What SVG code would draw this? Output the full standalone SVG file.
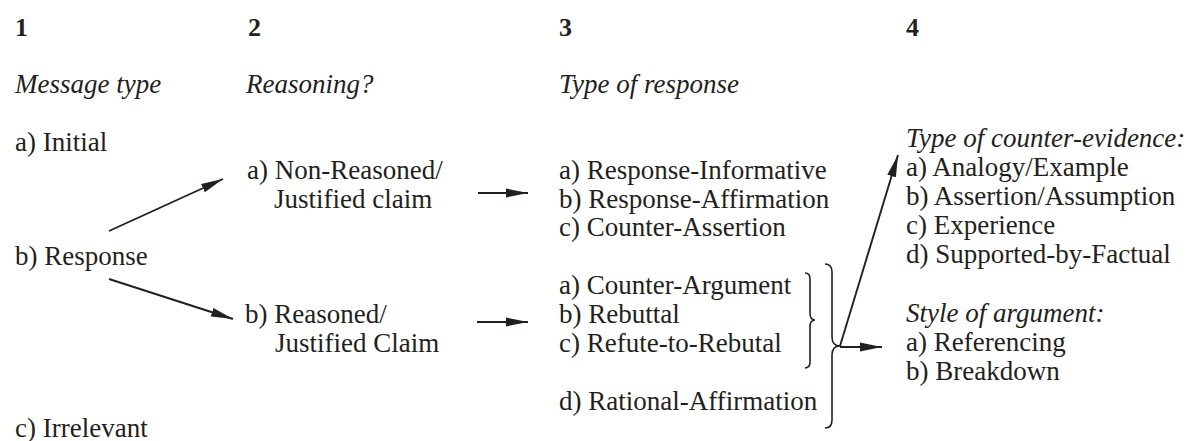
<svg xmlns="http://www.w3.org/2000/svg" width="1196" height="441" viewBox="0 0 1196 441">
<style>
text{font-family:"Liberation Serif","Times New Roman",serif;font-size:27px;fill:#231f20}
.num{font-weight:bold;font-size:26px}
.hd{font-style:italic}
.ln{stroke:#231f20;stroke-width:1.9;fill:none}
.br{stroke:#231f20;stroke-width:1.6;fill:none}
</style>
<defs>
<marker id="ah" viewBox="0 0 22 10" refX="22" refY="5" markerWidth="22" markerHeight="10" markerUnits="userSpaceOnUse" orient="auto">
<path d="M0,0.5 L22,5 L0,9.5 z" fill="#231f20"/>
</marker>
</defs>
<g id="headers">
<text class="num" x="15" y="36">1</text>
<text class="num" x="248" y="36">2</text>
<text class="num" x="559" y="36">3</text>
<text class="num" x="906" y="36">4</text>
<text class="hd" x="15" y="93">Message type</text>
<text class="hd" x="246" y="93">Reasoning?</text>
<text class="hd" x="559" y="93">Type of response</text>
</g>
<g id="initial"><text x="15" y="151">a) Initial</text></g>
<g id="response"><text x="15" y="265">b) Response</text></g>
<g id="irrelevant"><text x="15" y="437">c) Irrelevant</text></g>
<g id="non-reasoned"><text x="247" y="179">a) Non-Reasoned/</text><text x="274" y="208">Justified claim</text></g>
<g id="reasoned"><text x="245" y="323">b) Reasoned/</text><text x="275" y="352">Justified Claim</text></g>
<g id="responses-simple">
<text x="559" y="179">a) Response-Informative</text>
<text x="559" y="208">b) Response-Affirmation</text>
<text x="559" y="236">c) Counter-Assertion</text>
</g>
<g id="responses-reasoned">
<text x="559" y="294">a) Counter-Argument</text>
<text x="559" y="323">b) Rebuttal</text>
<text x="559" y="352">c) Refute-to-Rebutal</text>
<text x="559" y="410">d) Rational-Affirmation</text>
</g>
<g id="counter-evidence">
<text class="hd" x="906" y="147">Type of counter-evidence:</text>
<text x="906" y="176">a) Analogy/Example</text>
<text x="906" y="205">b) Assertion/Assumption</text>
<text x="906" y="234">c) Experience</text>
<text x="906" y="263">d) Supported-by-Factual</text>
</g>
<g id="argument-style">
<text class="hd" x="906" y="322">Style of argument:</text>
<text x="906" y="351">a) Referencing</text>
<text x="906" y="380">b) Breakdown</text>
</g>
<g id="connectors">
<line class="ln" x1="109" y1="231" x2="223" y2="179" marker-end="url(#ah)"/>
<line class="ln" x1="109" y1="279" x2="233" y2="319" marker-end="url(#ah)"/>
<line class="ln" x1="478" y1="193" x2="528" y2="193" marker-end="url(#ah)"/>
<line class="ln" x1="477" y1="322" x2="528" y2="322" marker-end="url(#ah)"/>
<path class="br" d="M805 273 Q810 273 810 279 L810 313 Q810 320 815 320 Q810 320 810 327 L810 362 Q810 368 805 368"/>
<path class="br" d="M825 264 Q832 264 832 272 L832 337 Q832 346 840 346 Q832 346 832 355 L832 420 Q832 428 825 428"/>
<line class="ln" x1="840" y1="347" x2="882" y2="347" marker-end="url(#ah)"/>
<line class="ln" x1="840" y1="346" x2="898" y2="155" marker-end="url(#ah)"/>
</g>
</svg>
